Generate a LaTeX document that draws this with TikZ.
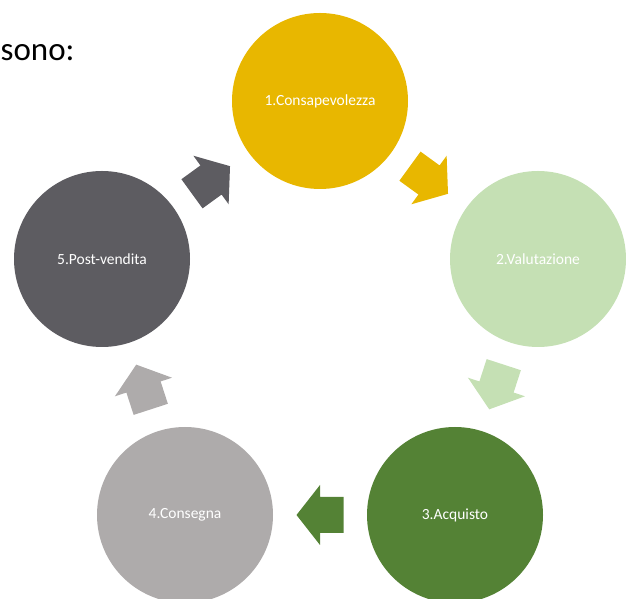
\documentclass[tikz,border=0pt]{standalone}
\usepackage{fontspec}
\setmainfont{Carlito}
\usetikzlibrary{calc}

\definecolor{stepgold}{HTML}{E8B700}
\definecolor{steplgreen}{HTML}{C5E0B4}
\definecolor{stepdgreen}{HTML}{548235}
\definecolor{steplgray}{HTML}{AEABAB}
\definecolor{stepdgray}{HTML}{5D5C61}

\tikzset{
  phase/.style={circle, minimum size=176pt, inner sep=0pt, text=white,
    font=\fontsize{15.5}{18}\selectfont},
}

\begin{document}
\begin{tikzpicture}[x=1pt, y=1pt]

\useasboundingbox (0,0) rectangle (626,599);
\clip (0,0) rectangle (626,599);

% Intro text
\node[anchor=base west, inner sep=0pt, font=\fontsize{33}{38}\selectfont] (intro) at (0.5,538) {sono:};

% Circles
\node[phase, fill=stepgold]   (c1) at (320,498) {1.Consapevolezza};
\node[phase, fill=steplgreen] (c2) at (538,340) {2.Valutazione};
\node[phase, fill=stepdgreen] (c3) at (455,84)  {3.Acquisto};
\node[phase, fill=steplgray]  (c4) at (185,84)  {4.Consegna};
\node[phase, fill=stepdgray]  (c5) at (102,340) {5.Post-vendita};

% Arrows
\foreach \a/\b/\ang/\col in {c1/c2/-36/stepgold, c2/c3/-108/steplgreen,
    c3/c4/180/stepdgreen, c4/c5/108/steplgray, c5/c1/36/stepdgray} {
  \begin{scope}[shift={($(\a)!0.5!(\b)$)}, rotate=\ang]
    \fill[\col] (-23.5,-18) -- (0,-18) -- (0,-30) -- (23.5,0)
      -- (0,30) -- (0,18) -- (-23.5,18) -- cycle;
  \end{scope}
}

\end{tikzpicture}
\end{document}
